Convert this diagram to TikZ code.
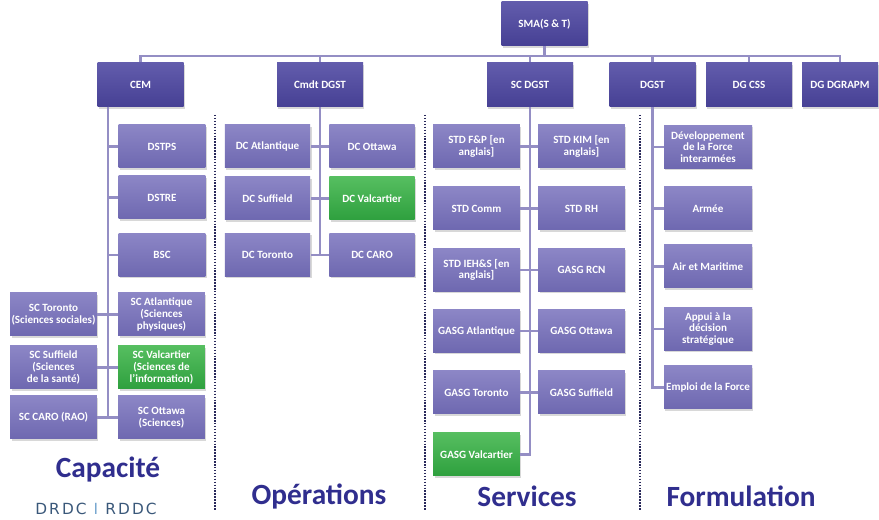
\documentclass[tikz,border=0pt]{standalone}
\usepackage{fontspec}
\setmainfont{Carlito}
\newfontfamily\logofont[LetterSpace=14]{DejaVu Sans}
\usetikzlibrary{shadows}

\definecolor{topfill}{RGB}{70,64,148}
\definecolor{toplight}{RGB}{98,92,172}
\definecolor{subfill}{RGB}{110,104,176}
\definecolor{sublight}{RGB}{140,134,198}
\definecolor{grnfill}{RGB}{46,160,62}
\definecolor{grnlight}{RGB}{86,190,96}
\definecolor{linkcol}{RGB}{148,142,196}
\definecolor{sepcol}{RGB}{40,40,90}
\definecolor{titlecol}{RGB}{48,46,142}
\definecolor{logocol}{RGB}{58,88,122}
\definecolor{logobar}{RGB}{120,168,208}

\tikzset{every picture/.style={line width=0.75pt}}
\tikzset{
  box/.style={rectangle, inner sep=1pt, align=center, text=white,
    font=\fontsize{8.3}{8.8}\selectfont\bfseries,
    drop shadow={shadow xshift=1pt, shadow yshift=-1.2pt, opacity=0.3}},
  topbox/.style={box, top color=toplight, bottom color=topfill,
    minimum width=64.5pt, minimum height=33pt},
  subbox/.style={box, top color=sublight, bottom color=subfill,
    minimum width=65pt, minimum height=32.25pt},
  greenbox/.style={subbox, top color=grnlight, bottom color=grnfill},
  link/.style={draw=linkcol, line width=2.2pt},
  sep/.style={draw=sepcol, line width=1.6pt, dash pattern=on 1.1pt off 1.1pt},
  title/.style={text=titlecol, font=\fontsize{22}{24}\selectfont\bfseries}
}

\begin{document}
\begin{tikzpicture}[x=0.75pt,y=0.75pt,yscale=-1,xscale=1]
\fill[white] (0,0) rectangle (879,520);
\useasboundingbox (0,0) rectangle (879,520);

%Top level
\node[topbox] (sma) at (544.5,24) {SMA(S \& T)};
\node[topbox] (cem) at (140.5,85) {CEM};
\node[topbox] (cmdt) at (320,85) {Cmdt DGST};
\node[topbox] (scdgst) at (530,85) {SC DGST};
\node[topbox] (dgst) at (652.5,85) {DGST};
\node[topbox] (dgcss) at (749,85) {DG CSS};
\node[topbox, minimum width=57pt] (dgrapm) at (840,85) {DG DGRAPM};

%Bus from SMA(S & T)
\coordinate (bus) at (544.5,56);
\draw[link] (sma.south) -- (bus);
\foreach \n in {cem,cmdt,scdgst,dgst,dgcss,dgrapm}
  \draw[link] (bus) -| (\n.north);

%Column Capacite
\node[subbox] (dstps) at (162,146.5) {DSTPS};
\node[subbox] (dstre) at (162,197.5) {DSTRE};
\node[subbox] (bsc) at (162,255) {BSC};
\node[subbox] (scatl) at (161.5,314.5) {SC Atlantique\\(Sciences\\physiques)};
\node[greenbox] (scval) at (161.5,367.5) {SC Valcartier\\(Sciences de\\l’information)};
\node[subbox] (scott) at (161.5,417.5) {SC Ottawa\\(Sciences)};
\node[subbox] (sctor) at (53.5,314.5) {SC Toronto\\(Sciences sociales)};
\node[subbox] (scsuf) at (53.5,367.5) {SC Suffield\\(Sciences\\de la santé)};
\node[subbox] (sccaro) at (53.5,417.5) {SC CARO (RAO)};
\coordinate (cemroot) at (108,107);
\foreach \n in {dstps,dstre,bsc,scatl,scval,scott}
  \draw[link] (cemroot) |- (\n.west);
\foreach \n in {sctor,scsuf,sccaro}
  \draw[link] (cemroot) |- (\n.east);

%Column Operations
\node[subbox, minimum width=64pt] (dcatl) at (267.5,146.5) {DC Atlantique};
\node[subbox, minimum width=64pt] (dcott) at (372,146.5) {DC Ottawa};
\node[subbox, minimum width=64pt] (dcsuf) at (267.5,198.5) {DC Suffield};
\node[greenbox, minimum width=64pt] (dcval) at (372,198.5) {DC Valcartier};
\node[subbox, minimum width=64pt] (dctor) at (267.5,255) {DC Toronto};
\node[subbox, minimum width=64pt] (dccaro) at (372,255) {DC CARO};
\foreach \n in {dcatl,dcsuf,dctor}
  \draw[link] (cmdt.south) |- (\n.east);
\foreach \n in {dcott,dcval,dccaro}
  \draw[link] (cmdt.south) |- (\n.west);

%Column Services
\node[subbox] (stdfp) at (476.5,146.5) {STD F\&P [en\\anglais]};
\node[subbox] (stdkim) at (581.5,146.5) {STD KIM [en\\anglais]};
\node[subbox] (stdcomm) at (476.5,208.5) {STD Comm};
\node[subbox] (stdrh) at (581.5,208.5) {STD RH};
\node[subbox] (stdieh) at (476.5,270) {STD IEH\&S [en\\anglais]};
\node[subbox] (gasgrcn) at (581.5,270) {GASG RCN};
\node[subbox] (gasgatl) at (476.5,331) {GASG Atlantique};
\node[subbox] (gasgott) at (581.5,331) {GASG Ottawa};
\node[subbox] (gasgtor) at (476.5,392.5) {GASG Toronto};
\node[subbox] (gasgsuf) at (581.5,392.5) {GASG Suffield};
\node[greenbox] (gasgval) at (476.5,454.5) {GASG Valcartier};
\foreach \n in {stdfp,stdcomm,stdieh,gasgatl,gasgtor,gasgval}
  \draw[link] (scdgst.south) |- (\n.east);
\foreach \n in {stdkim,stdrh,gasgrcn,gasgott,gasgsuf}
  \draw[link] (scdgst.south) |- (\n.west);

%Column Formulation
\node[subbox, minimum width=66pt] (devf) at (708,147) {Développement\\de la Force\\interarmées};
\node[subbox, minimum width=66pt] (armee) at (708,208.5) {Armée};
\node[subbox, minimum width=66pt] (airmar) at (708,266.5) {Air et Maritime};
\node[subbox, minimum width=66pt] (appui) at (708,329) {Appui à la\\décision\\stratégique};
\node[subbox, minimum width=66pt] (emploi) at (708,387.5) {Emploi de la Force};
\foreach \n in {devf,armee,airmar,appui,emploi}
  \draw[link] (dgst.south) |- (\n.west);

%Dotted separators
\foreach \x in {215,425,640}
  \draw[sep] (\x,115) -- (\x,510);

% Text Node
\node[title] (capa) at (108,470) {Capacité};
% Text Node
\node[title] (oper) at (319,496) {Opérations};
% Text Node
\node[title] (serv) at (527,496) {Services};
% Text Node
\node[title] (form) at (741,496) {Formulation};
% Text Node
\node[text=logocol, font=\logofont\fontsize{11.5}{13}\selectfont] (logo) at (96,509)
  {DRDC \textcolor{logobar}{I} RDDC};
\end{tikzpicture}
\end{document}
